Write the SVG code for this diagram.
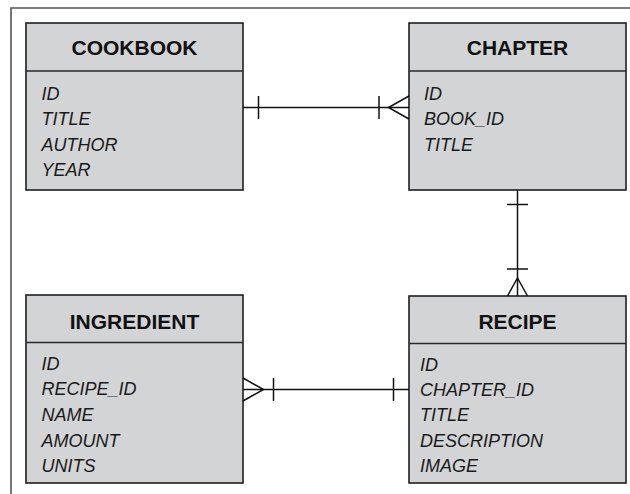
<svg xmlns="http://www.w3.org/2000/svg" width="630" height="494" viewBox="0 0 630 494">
<style>
.box{fill:#d3d4d6;stroke:#1e1e1e;stroke-width:1.6}
.div{stroke:#2a2a2a;stroke-width:1.6;fill:none}
.title{font-family:"Liberation Sans",Arial,sans-serif;font-weight:bold;font-size:21px;fill:#111;text-anchor:middle}
.attr{font-family:"Liberation Sans",Arial,sans-serif;font-style:italic;font-size:18px;fill:#1a1a1a}
.ln{stroke:#111;stroke-width:1.5;fill:none}
.frame{stroke:#555;stroke-width:1.6;fill:none}
</style>
<rect width="630" height="494" fill="#fff"/>
<path class="frame" d="M11,494 V8 H630"/>
<g id="cookbook">
<rect class="box" x="26" y="23" width="217" height="167"/>
<line class="div" x1="26" y1="71" x2="243" y2="71"/>
<text class="title" x="134.5" y="55">COOKBOOK</text>
<text class="attr" x="41.5" y="99.5">ID</text>
<text class="attr" x="41.5" y="125">TITLE</text>
<text class="attr" x="41.5" y="150.5">AUTHOR</text>
<text class="attr" x="41.5" y="176">YEAR</text>
</g>
<g id="chapter">
<rect class="box" x="409" y="23" width="217" height="167"/>
<line class="div" x1="409" y1="71" x2="626" y2="71"/>
<text class="title" x="517.5" y="55">CHAPTER</text>
<text class="attr" x="424" y="99.5">ID</text>
<text class="attr" x="424" y="125">BOOK_ID</text>
<text class="attr" x="424" y="150.5">TITLE</text>
</g>
<g id="ingredient">
<rect class="box" x="26" y="295" width="217" height="188"/>
<line class="div" x1="26" y1="342.5" x2="243" y2="342.5"/>
<text class="title" x="134.5" y="328.5">INGREDIENT</text>
<text class="attr" x="41.5" y="369.5">ID</text>
<text class="attr" x="41.5" y="395">RECIPE_ID</text>
<text class="attr" x="41.5" y="421">NAME</text>
<text class="attr" x="41.5" y="446.5">AMOUNT</text>
<text class="attr" x="41.5" y="472">UNITS</text>
</g>
<g id="recipe">
<rect class="box" x="409" y="296" width="217" height="187"/>
<line class="div" x1="409" y1="343.5" x2="626" y2="343.5"/>
<text class="title" x="517.5" y="328.5">RECIPE</text>
<text class="attr" x="420" y="370.5">ID</text>
<text class="attr" x="420" y="395.5">CHAPTER_ID</text>
<text class="attr" x="420" y="421">TITLE</text>
<text class="attr" x="420" y="446.5">DESCRIPTION</text>
<text class="attr" x="420" y="472">IMAGE</text>
</g>
<g id="connectors">
<line class="ln" x1="243" y1="107.5" x2="409" y2="107.5"/>
<line class="ln" x1="258.5" y1="96" x2="258.5" y2="119"/>
<line class="ln" x1="379" y1="96" x2="379" y2="119"/>
<path class="ln" d="M409,96 L388.5,107.5 L409,119"/>
<line class="ln" x1="517.5" y1="190" x2="517.5" y2="296"/>
<line class="ln" x1="507" y1="204.5" x2="528" y2="204.5"/>
<line class="ln" x1="507" y1="269" x2="528" y2="269"/>
<path class="ln" d="M507.5,296 L517.5,278 L527.5,296"/>
<line class="ln" x1="243" y1="389.5" x2="409" y2="389.5"/>
<line class="ln" x1="393.5" y1="378" x2="393.5" y2="401"/>
<line class="ln" x1="273.5" y1="378" x2="273.5" y2="401"/>
<path class="ln" d="M243,378 L263.5,389.5 L243,401"/>
</g>
</svg>
